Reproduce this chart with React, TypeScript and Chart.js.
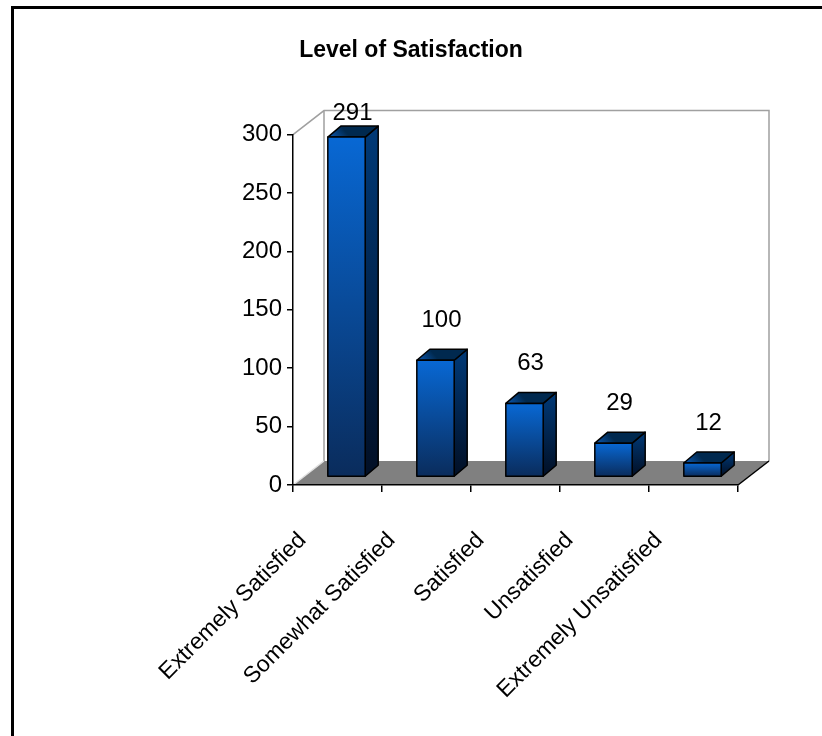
import React, { useEffect, useRef } from 'react';
import { Chart, registerables } from 'chart.js';

Chart.register(...registerables);

const categories = [
  'Extremely Satisfied',
  'Somewhat Satisfied',
  'Satisfied',
  'Unsatisfied',
  'Extremely Unsatisfied',
];
const counts = [291, 100, 63, 29, 12];
const yMin = 0;
const yMax = 300;
const yStep = 50;
const titleText = 'Level of Satisfaction';

const FONT = '"Liberation Sans", Arial, sans-serif';

// 3D projection styling
const WALL_DX = 31;
const WALL_DY = 24;
const BAR_OFF_X = 9;
const BAR_OFF_Y = 8;
const BAR_DX = 13;
const BAR_DY = 11;
const LABEL_GAP = 40;

const threeD = {
  id: 'threeD',
  beforeDraw(chart: any) {
    const ctx = chart.ctx as CanvasRenderingContext2D;
    const { left, right, top, bottom } = chart.chartArea;
    ctx.save();
    ctx.fillStyle = '#ffffff';
    ctx.fillRect(0, 0, chart.width, chart.height);
    // outer frame
    ctx.strokeStyle = '#000';
    ctx.lineWidth = 3;
    ctx.strokeRect(12.5, 7.5, chart.width + 40, chart.height + 40);
    // floor
    ctx.fillStyle = '#808080';
    ctx.beginPath();
    ctx.moveTo(left, bottom);
    ctx.lineTo(right, bottom);
    ctx.lineTo(right + WALL_DX, bottom - WALL_DY);
    ctx.lineTo(left + WALL_DX, bottom - WALL_DY);
    ctx.closePath();
    ctx.fill();
    // walls outline
    ctx.strokeStyle = '#a0a0a0';
    ctx.lineWidth = 1.5;
    ctx.beginPath();
    ctx.moveTo(left, top);
    ctx.lineTo(left + WALL_DX, top - WALL_DY);
    ctx.lineTo(right + WALL_DX, top - WALL_DY);
    ctx.lineTo(right + WALL_DX, bottom - WALL_DY);
    ctx.moveTo(left + WALL_DX, top - WALL_DY);
    ctx.lineTo(left + WALL_DX, bottom - WALL_DY);
    ctx.stroke();
    // floor left edge (light)
    ctx.strokeStyle = '#e0e0e0';
    ctx.beginPath();
    ctx.moveTo(left, bottom);
    ctx.lineTo(left + WALL_DX, bottom - WALL_DY);
    ctx.stroke();
    // floor right edge
    ctx.strokeStyle = '#000';
    ctx.beginPath();
    ctx.moveTo(right, bottom);
    ctx.lineTo(right + WALL_DX, bottom - WALL_DY);
    ctx.stroke();
    ctx.restore();
  },
  afterDatasetsDraw(chart: any) {
    const ctx = chart.ctx as CanvasRenderingContext2D;
    const meta = chart.getDatasetMeta(0);
    const plotTop = chart.chartArea.top - WALL_DY;
    ctx.save();
    ctx.lineWidth = 1.5;
    ctx.lineJoin = 'round';
    ctx.strokeStyle = '#000';
    meta.data.forEach((bar: any, i: number) => {
      const { x, y, base, width } = bar.getProps(['x', 'y', 'base', 'width'], true);
      const l = x - width / 2 + BAR_OFF_X;
      const r = x + width / 2 + BAR_OFF_X;
      const t = y - BAR_OFF_Y;
      const b = base - BAR_OFF_Y;
      // side face
      const gs = ctx.createLinearGradient(0, t - BAR_DY, 0, b);
      gs.addColorStop(0, '#003a78');
      gs.addColorStop(1, '#020f25');
      ctx.fillStyle = gs;
      ctx.beginPath();
      ctx.moveTo(r, t);
      ctx.lineTo(r + BAR_DX, t - BAR_DY);
      ctx.lineTo(r + BAR_DX, b - BAR_DY);
      ctx.lineTo(r, b);
      ctx.closePath();
      ctx.fill();
      ctx.stroke();
      // top face
      const gt = ctx.createLinearGradient(l, t, l + BAR_DX, t - BAR_DY);
      gt.addColorStop(0, '#0d5cb8');
      gt.addColorStop(1, '#00294f');
      ctx.fillStyle = gt;
      ctx.beginPath();
      ctx.moveTo(l, t);
      ctx.lineTo(l + BAR_DX, t - BAR_DY);
      ctx.lineTo(r + BAR_DX, t - BAR_DY);
      ctx.lineTo(r, t);
      ctx.closePath();
      ctx.fill();
      ctx.stroke();
      // front face
      const gf = ctx.createLinearGradient(0, t, 0, b);
      gf.addColorStop(0, '#0868d4');
      gf.addColorStop(1, '#0a2c5c');
      ctx.fillStyle = gf;
      ctx.beginPath();
      ctx.rect(l, t, r - l, b - t);
      ctx.fill();
      ctx.stroke();
      // value label
      ctx.fillStyle = '#000';
      ctx.font = `24px ${FONT}`;
      ctx.textAlign = 'center';
      ctx.textBaseline = 'middle';
      const ly = Math.max(t - LABEL_GAP, plotTop + 3);
      ctx.fillText(String(counts[i]), (l + r) / 2 + 6, ly);
    });
    ctx.restore();
  },
};

export default function App() {
  const ref = useRef<HTMLCanvasElement | null>(null);
  useEffect(() => {
    if (!ref.current) return;
    const chart = new Chart(ref.current, {
      type: 'bar',
      data: {
        labels: categories,
        datasets: [
          {
            data: counts,
            backgroundColor: 'rgba(0,0,0,0)',
            borderWidth: 0,
            categoryPercentage: 1,
            barPercentage: 0.42,
          },
        ],
      },
      options: {
        responsive: false,
        animation: false,
        devicePixelRatio: 1,
        layout: { padding: { left: 84, right: 84, top: 0, bottom: 0 } },
        plugins: {
          legend: { display: false },
          tooltip: { enabled: false },
          title: {
            display: true,
            text: titleText,
            color: '#000',
            font: { family: FONT, size: 23, weight: 'bold' },
            padding: { top: 37, bottom: 70 },
          },
        },
        scales: {
          x: {
            type: 'category',
            offset: true,
            grid: {
              display: true,
              offset: true,
              drawOnChartArea: false,
              drawTicks: true,
              tickLength: 7,
              color: '#000',
              lineWidth: 1.5,
            },
            border: { display: true, color: '#000', width: 1.5 },
            ticks: {
              color: '#000',
              font: { family: FONT, size: 23 },
              minRotation: 45,
              maxRotation: 45,
              autoSkip: false,
              labelOffset: -35,
              padding: 35,
            },
            afterFit: (s: any) => {
              s.height = 251;
            },
          },
          y: {
            min: yMin,
            max: yMax,
            ticks: {
              stepSize: yStep,
              color: '#000',
              font: { family: FONT, size: 24 },
              padding: 5,
            },
            grid: {
              display: true,
              drawOnChartArea: false,
              drawTicks: true,
              tickLength: 6,
              color: '#000',
              lineWidth: 1.5,
            },
            border: { display: true, color: '#000', width: 1.5 },
            afterFit: (s: any) => {
              s.width = 209;
            },
          },
        },
      },
      plugins: [threeD],
    } as any);
    return () => chart.destroy();
  }, []);
  return (
    <div style={{ position: 'absolute', left: 0, top: 0, width: 822, height: 736 }}>
      <canvas ref={ref} width={822} height={736} style={{ display: 'block' }} />
    </div>
  );
}
